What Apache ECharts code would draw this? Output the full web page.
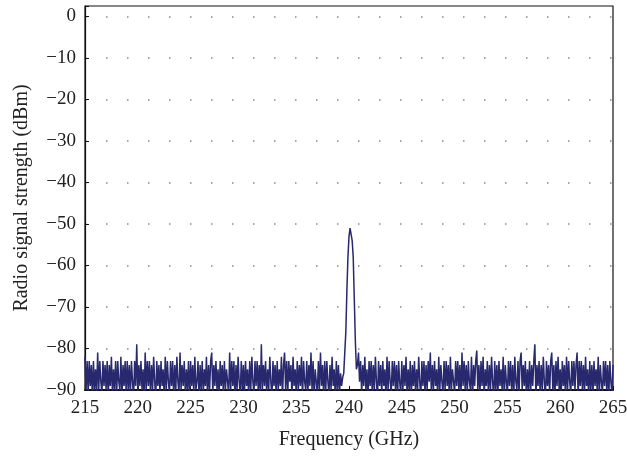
<!DOCTYPE html>
<html lang="en">
<head>
    <meta charset="UTF-8">
    <title>Radio signal spectrum</title>
    <script type="text/javascript" src="https://cdn.jsdelivr.net/npm/echarts@6/dist/echarts.min.js"></script>
    <style>
        html, body { margin: 0; padding: 0; background: #fff; }
    </style>
</head>
<body>
<div id="chart" style="width: 627px;height:456px;"></div>
<script>
    // sweep: 215 .. 265 GHz, one reading every 0.1 GHz (one row = 1 GHz)
    var freqStart = 215;
    var freqStep = 0.1;
    var xTicks = [215, 220, 225, 230, 235, 240, 245, 250, 255, 260, 265];
    var yTicks = [0, -10, -20, -30, -40, -50, -60, -70, -80, -90];
    var signal = [
        -82, -90, -83, -91, -83, -89, -84, -92, -83, -90,
        -85, -91, -81, -90, -83, -88, -91, -83, -89, -84,
        -90, -83, -92, -84, -89, -82, -91, -85, -90, -83,
        -91, -83, -88, -90, -82, -92, -84, -89, -83, -91,
        -83, -90, -84, -91, -83, -88, -92, -83, -89, -79,
        -91, -84, -89, -83, -90, -85, -92, -81, -90, -83,
        -89, -83, -91, -84, -90, -82, -88, -92, -83, -89,
        -84, -91, -83, -89, -85, -92, -82, -90, -83, -88,
        -91, -83, -89, -83, -92, -84, -90, -82, -88, -91,
        -81, -90, -84, -89, -83, -91, -85, -90, -83, -92,
        -83, -89, -84, -91, -82, -90, -88, -83, -92, -84,
        -90, -83, -91, -85, -89, -82, -92, -84, -90, -83,
        -81, -91, -84, -89, -83, -90, -85, -92, -83, -89,
        -84, -91, -83, -90, -85, -88, -91, -81, -90, -83,
        -89, -83, -92, -84, -90, -82, -88, -91, -83, -90,
        -84, -91, -83, -89, -85, -92, -83, -90, -82, -88,
        -91, -83, -89, -83, -90, -84, -92, -79, -90, -84,
        -89, -83, -91, -85, -90, -82, -88, -92, -83, -89,
        -84, -91, -83, -90, -85, -89, -82, -92, -84, -81,
        -90, -83, -91, -83, -88, -84, -92, -82, -89, -85,
        -91, -83, -90, -84, -89, -82, -92, -83, -88, -90,
        -83, -91, -84, -89, -81, -90, -83, -92, -85, -88,
        -91, -83, -90, -81, -89, -84, -92, -83, -90, -83,
        -88, -91, -84, -90, -82, -89, -85, -92, -83, -90,
        -84, -91, -86, -89, -87, -86, -86, -76, -66, -58,
        -53, -51, -50.8, -54, -58, -68, -78, -85, -84, -81,
        -88, -83, -91, -84, -89, -82, -90, -85, -92, -83,
        -89, -83, -91, -84, -90, -82, -88, -92, -83, -89,
        -84, -91, -83, -89, -85, -92, -82, -90, -83, -88,
        -91, -83, -89, -83, -90, -84, -92, -83, -88, -91,
        -83, -90, -84, -89, -82, -91, -85, -90, -83, -92,
        -84, -89, -83, -91, -85, -90, -82, -88, -92, -83,
        -89, -83, -91, -84, -90, -83, -88, -81, -91, -84,
        -90, -83, -89, -85, -92, -82, -90, -84, -88, -91,
        -83, -90, -83, -89, -84, -92, -82, -90, -85, -88,
        -91, -83, -89, -83, -90, -84, -92, -81, -89, -83,
        -90, -84, -91, -83, -88, -90, -82, -92, -84, -89,
        -83, -80.5, -90, -84, -91, -83, -89, -82, -92, -85,
        -89, -83, -91, -84, -90, -82, -88, -92, -83, -90,
        -84, -91, -83, -89, -85, -90, -82, -92, -84, -88,
        -91, -83, -89, -83, -90, -84, -92, -82, -88, -90,
        -83, -91, -83, -81, -90, -84, -89, -83, -92, -85,
        -90, -83, -91, -84, -89, -83, -79, -92, -84, -89,
        -83, -91, -84, -90, -82, -88, -92, -83, -89, -84,
        -91, -83, -81, -90, -84, -92, -83, -89, -82, -90,
        -85, -91, -83, -89, -84, -92, -82, -90, -83, -88,
        -91, -83, -89, -83, -90, -84, -81, -92, -83, -89,
        -83, -90, -84, -91, -82, -89, -85, -92, -83, -90,
        -84, -91, -83, -89, -85, -90, -82, -92, -84, -88,
        -91, -83, -89, -83, -90, -84, -92, -83, -88, -91,
        -84
    ];

    var points = [];
    for (var i = 0; i < signal.length; i++) {
        points.push([+(freqStart + i * freqStep).toFixed(1), signal[i]]);
    }

    var FONT = 'Liberation Serif';
    var minus = function (v) {
        return v < 0 ? '\u2212' + (-v) : '' + v;
    };

    var option = {
        animation: false,
        backgroundColor: '#fff',
        grid: {
            left: 85,
            right: 14,
            top: 6,
            bottom: 66,
            outerBoundsMode: 'none',
            show: true,
            borderColor: '#111',
            borderWidth: 1.2
        },
        xAxis: {
            type: 'value',
            min: xTicks[0],
            max: xTicks[xTicks.length - 1],
            interval: 5,
            name: 'Frequency (GHz)',
            nameLocation: 'middle',
            nameGap: 40,
            nameTextStyle: { fontFamily: FONT, fontSize: 20, color: '#222' },
            axisLine: { onZero: false, lineStyle: { color: '#111', width: 2 } },
            axisTick: { inside: true, length: 4, lineStyle: { color: '#111' } },
            axisLabel: {
                fontFamily: FONT, fontSize: 19, color: '#222', margin: 9,
                formatter: function (v) {
                    return xTicks.indexOf(v) >= 0 ? '' + v : '';
                }
            },
            splitLine: { show: false }
        },
        yAxis: {
            type: 'value',
            min: yTicks[yTicks.length - 1],
            max: 2.5,
            interval: 10,
            name: 'Radio signal strength (dBm)',
            nameLocation: 'middle',
            nameGap: 53,
            nameTextStyle: { fontFamily: FONT, fontSize: 20, color: '#222' },
            axisLine: { lineStyle: { color: '#111', width: 1.2 } },
            axisTick: { inside: true, length: 4, lineStyle: { color: '#111' } },
            axisLabel: {
                fontFamily: FONT, fontSize: 19, color: '#222', margin: 9,
                formatter: function (v) {
                    return yTicks.indexOf(v) >= 0 ? minus(v) : '';
                }
            },
            splitLine: {
                show: true,
                lineStyle: { color: '#888', type: [1.5, 19.5], width: 1.5 }
            }
        },
        series: [{
            type: 'line',
            data: points,
            showSymbol: false,
            clip: true,
            lineStyle: { color: '#27286e', width: 1.5 }
        }]
    };
    var myChart = echarts.init(document.getElementById('chart'));
    myChart.setOption(option);
</script>
</body>
</html>
